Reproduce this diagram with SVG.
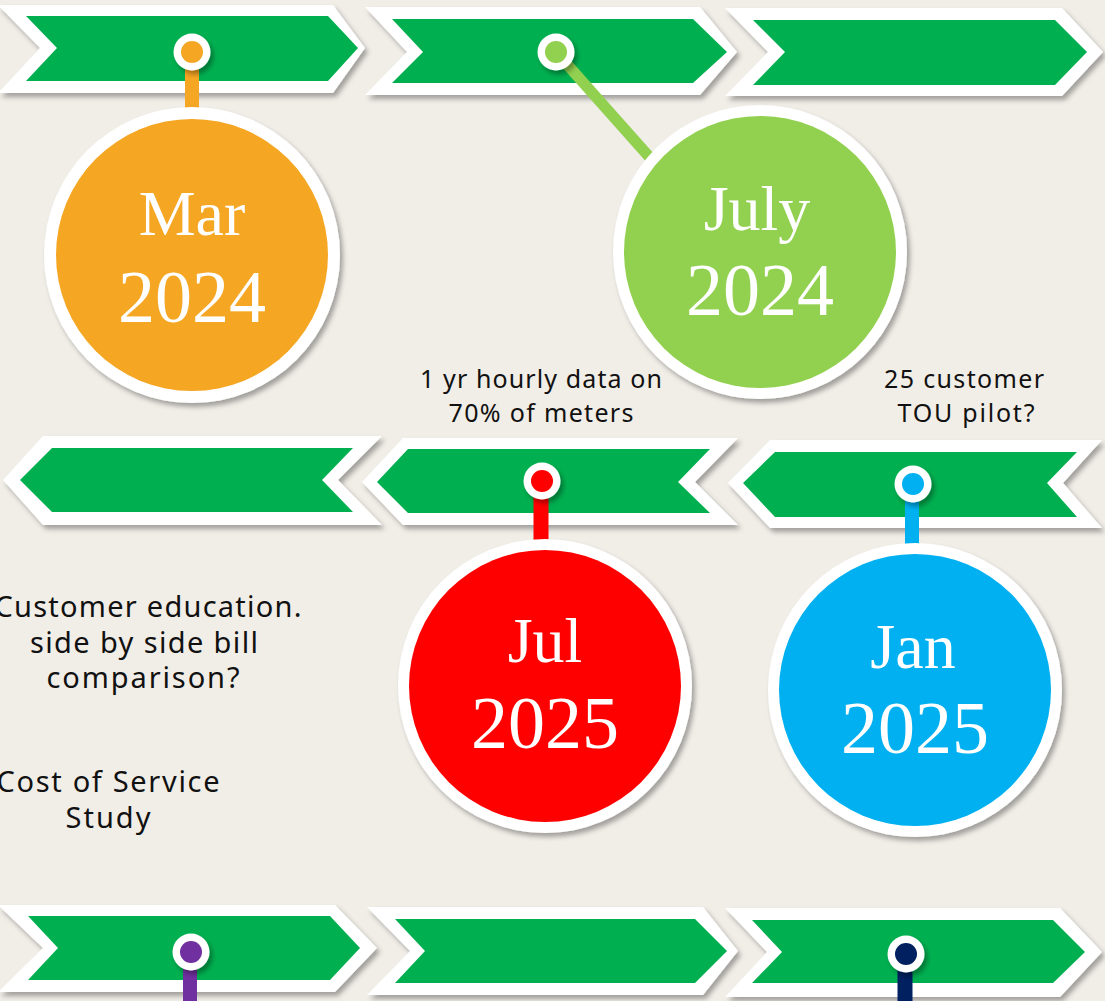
<svg xmlns="http://www.w3.org/2000/svg" width="1105" height="1001" viewBox="0 0 1105 1001">
<defs>
<filter id="sh" x="-10%" y="-10%" width="125%" height="130%">
<feDropShadow dx="3" dy="4" stdDeviation="2.5" flood-color="#000" flood-opacity="0.33"/>
</filter>
<style>
.out{fill:#fff;filter:url(#sh)}
.in{fill:#00B050}
.ring{fill:#fff;filter:url(#sh)}
.date{font-family:"Liberation Serif","DejaVu Serif",serif;fill:#fff;text-anchor:middle}
.m{font-size:64px}
.y{font-size:74px}
.lbl{font-family:"Noto Sans","Open Sans",sans-serif;fill:#111;text-anchor:middle}
.t{font-size:25px}
.l{font-size:29px}
</style>
</defs>
<rect width="1105" height="1001" fill="#F1EEE8"/>

<g id="chevron-top-1"><polygon class="out" points="-2,5 333,5 365,48 333,93 -2,93 40,48"/><polygon class="in" points="26,16 328,16 358,48 328,81 26,81 57,48"/></g>
<g id="chevron-top-2"><polygon class="out" points="365,7 700,7 737,52 700,95 365,95 407,52"/><polygon class="in" points="392,19 693,19 727,52 693,83 392,83 423,52"/></g>
<g id="chevron-top-3"><polygon class="out" points="725,8 1062,8 1103,52 1062,96 725,96 768,52"/><polygon class="in" points="753,20 1055,20 1087,52 1055,85 753,85 785,52"/></g>

<g id="chevron-mid-1"><polygon class="out" points="3,480 43,436 382,436 338,480 382,525 43,525"/><polygon class="in" points="20,480 52,448 353,448 322,480 353,512 52,512"/></g>
<g id="chevron-mid-2"><polygon class="out" points="362,482 403,438 738,438 695,482 738,525 403,525"/><polygon class="in" points="377,482 408,449 710,449 678,482 710,513 408,513"/></g>
<g id="chevron-mid-3"><polygon class="out" points="728,483 770,440 1102,440 1063,483 1102,528 770,528"/><polygon class="in" points="743,483 775,452 1077,452 1047,483 1077,517 775,517"/></g>

<g id="chevron-bot-1"><polygon class="out" points="-2,905 335,905 377,948 335,992 -2,992 43,948"/><polygon class="in" points="28,916 330,916 360,948 330,980 28,980 58,948"/></g>
<g id="chevron-bot-2"><polygon class="out" points="367,907 703,907 738,951 703,995 367,995 410,951"/><polygon class="in" points="395,919 695,919 727,951 695,983 395,983 425,951"/></g>
<g id="chevron-bot-3"><polygon class="out" points="725,908 1060,908 1102,952 1060,997 725,997 767,952"/><polygon class="in" points="752,920 1053,920 1085,952 1053,983 752,983 782,952"/></g>

<g id="connectors">
<line x1="192" y1="60" x2="192" y2="116" stroke="#F5A623" stroke-width="14"/>
<line x1="556" y1="52" x2="652" y2="160" stroke="#92D050" stroke-width="11"/>
<line x1="541" y1="490" x2="541" y2="546" stroke="#FF0000" stroke-width="15"/>
<line x1="912" y1="492" x2="912" y2="550" stroke="#00B0F0" stroke-width="14"/>
<line x1="190" y1="960" x2="190" y2="1001" stroke="#7030A0" stroke-width="14"/>
<line x1="905" y1="962" x2="905" y2="1001" stroke="#002060" stroke-width="15"/>
</g>

<g id="pin-mar-2024"><circle class="ring" cx="192" cy="52" r="18.5"/><circle cx="192" cy="52" r="11" fill="#F5A623"/></g>
<g id="pin-july-2024"><circle class="ring" cx="556" cy="52" r="18.5"/><circle cx="556" cy="52" r="11" fill="#92D050"/></g>
<g id="pin-jul-2025"><circle class="ring" cx="542" cy="481" r="18.5"/><circle cx="542" cy="481" r="11" fill="#FF0000"/></g>
<g id="pin-jan-2025"><circle class="ring" cx="913" cy="484" r="18.5"/><circle cx="913" cy="484" r="11" fill="#00B0F0"/></g>
<g id="pin-purple"><circle class="ring" cx="191" cy="952" r="18.5"/><circle cx="191" cy="952" r="11" fill="#7030A0"/></g>
<g id="pin-navy"><circle class="ring" cx="906" cy="954" r="18.5"/><circle cx="906" cy="954" r="11" fill="#002060"/></g>

<g id="node-mar-2024"><circle class="ring" cx="192" cy="255" r="148"/><circle cx="192" cy="255" r="136" fill="#F5A623"/><text class="date m" x="192" y="235">Mar</text><text class="date y" x="192" y="322">2024</text></g>
<g id="node-july-2024"><circle class="ring" cx="760" cy="252" r="147"/><circle cx="760" cy="252" r="136" fill="#92D050"/><text class="date m" x="757" y="230">July</text><text class="date y" x="760" y="315">2024</text></g>
<g id="node-jul-2025"><circle class="ring" cx="545" cy="686" r="147"/><circle cx="545" cy="686" r="136" fill="#FF0000"/><text class="date m" x="545" y="662">Jul</text><text class="date y" x="545" y="748">2025</text></g>
<g id="node-jan-2025"><circle class="ring" cx="915" cy="690" r="147"/><circle cx="915" cy="690" r="136" fill="#00B0F0"/><text class="date m" x="913" y="668">Jan</text><text class="date y" x="915" y="753">2025</text></g>

<g id="label-hourly-data"><text class="lbl t" x="541" y="388" textLength="242" lengthAdjust="spacing">1 yr hourly data on</text><text class="lbl t" x="541" y="422" textLength="185" lengthAdjust="spacing">70% of meters</text></g>
<g id="label-tou-pilot"><text class="lbl t" x="964" y="388" textLength="160" lengthAdjust="spacing">25 customer</text><text class="lbl t" x="966" y="422" textLength="137" lengthAdjust="spacing">TOU pilot?</text></g>
<g id="label-education"><text class="lbl l" x="148" y="617" textLength="307" lengthAdjust="spacing">Customer education.</text><text class="lbl l" x="144" y="653" textLength="228" lengthAdjust="spacing">side by side bill</text><text class="lbl l" x="143" y="688" textLength="193" lengthAdjust="spacing">comparison?</text></g>
<g id="label-cos"><text class="lbl l" x="108" y="792" textLength="223" lengthAdjust="spacing">Cost of Service</text><text class="lbl l" x="108" y="828" textLength="85" lengthAdjust="spacing">Study</text></g>
</svg>
